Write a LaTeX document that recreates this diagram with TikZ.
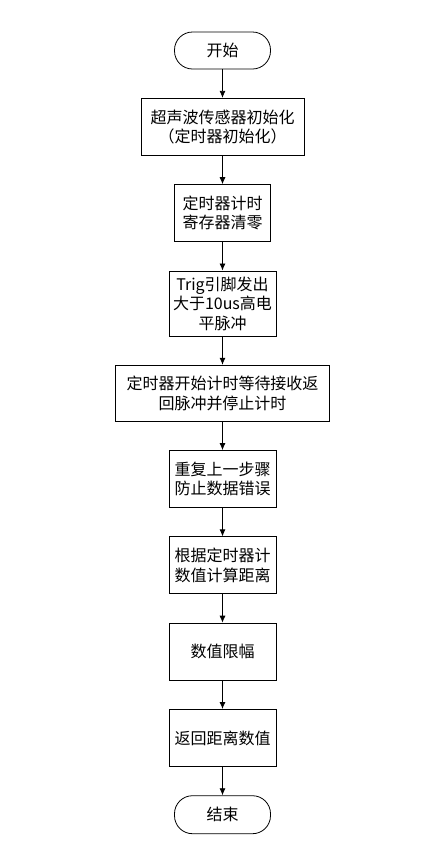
\documentclass[tikz,border=0pt]{standalone}
\usepackage{fontspec}
\setmainfont{Noto Sans CJK SC}
\usetikzlibrary{arrows.meta,positioning}

\begin{document}
\begin{tikzpicture}[>={Latex[length=7pt,width=6pt]},x=1pt,y=1pt,thick]
		\tikzset{
			every node/.style={font=\fontsize{16pt}{19.5pt}\selectfont,align=center,inner xsep=3pt,inner ysep=5pt},
			term/.style={draw,rounded corners=18pt,minimum width=96pt,minimum height=37pt},
			proc/.style={draw,minimum width=107pt,minimum height=57pt},
			node distance=28.5pt
		}
		\useasboundingbox (0,0) rectangle (438,-847);
		\node(start)[term] at (222.5,-50.5){开始};
		\node(init)[proc,below=of start,minimum width=163pt]{超声波传感器初始化\\（定时器初始化）};
		\node(clr)[proc,below=of init,minimum width=96pt]{定时器计时\\寄存器清零};
		\node(trig)[proc,below=of clr,inner ysep=2pt,minimum height=65pt]{Trig引脚发出\\大于10us高电\\平脉冲};
		\node(wait)[proc,below=of trig,minimum width=214pt,minimum height=56pt]{定时器开始计时等待接收返\\回脉冲并停止计时};
		\node(rep)[proc,below=of wait]{重复上一步骤\\防止数据错误};
		\node(calc)[proc,below=of rep]{根据定时器计\\数值计算距离};
		\node(lim)[proc,below=of calc]{数值限幅};
		\node(ret)[proc,below=of lim]{返回距离数值};
		\node(stop)[term,below=of ret,minimum height=38pt]{结束};
		\draw (start) [->] -- (init);
		\draw (init) [->] -- (clr);
		\draw (clr) [->] -- (trig);
		\draw (trig) [->] -- (wait);
		\draw (wait) [->] -- (rep);
		\draw (rep) [->] -- (calc);
		\draw (calc) [->] -- (lim);
		\draw (lim) [->] -- (ret);
		\draw (ret) [->] -- (stop);
\end{tikzpicture}
\end{document}
